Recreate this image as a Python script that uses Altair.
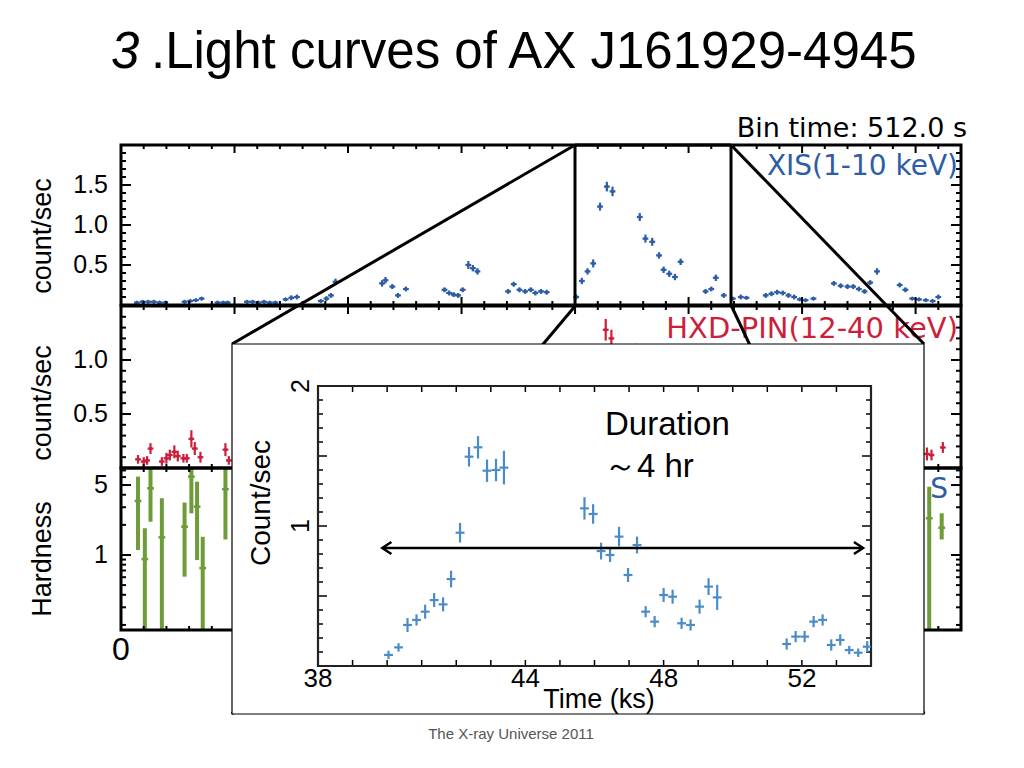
import altair as alt
import pandas as pd

# ---------------- data ----------------
# XIS (1-10 keV) light curve, 512 s bins: time (ks), count/sec, error
xis_t = [1.4, 1.9, 2.4, 2.9, 3.4, 3.9,
         5.6, 6.1, 6.6, 7.1,
         8.5, 9.0, 9.4,
         11.1, 11.6, 12.1, 12.6, 13.1, 13.6,
         14.5, 15.0, 15.5,
         17.6, 18.1, 18.5, 18.9,
         23.0, 23.3, 23.9, 24.4, 25.1,
         28.5, 28.9, 29.3, 29.7, 30.1, 30.6, 31.0, 31.4,
         34.1, 34.6, 35.1, 35.6, 36.1, 36.5, 37.0, 37.5,
         40.1, 40.6, 41.1, 41.6, 42.2, 42.8, 43.3, 45.7, 46.2, 46.8, 47.4,
         47.8, 48.3, 48.8, 49.3, 51.5, 52.0, 52.4, 53.1, 53.9, 54.6, 55.1,
         56.8, 57.3, 57.8, 58.3, 58.8, 59.3, 59.8, 60.3, 61.0,
         62.8, 63.4, 64.0, 64.5, 65.0, 65.5, 66.0, 66.6,
         68.6, 69.1, 69.7, 70.3, 70.9, 71.5, 72.0]
xis_v = [0.03, 0.04, 0.04, 0.04, 0.03, 0.03,
         0.04, 0.05, 0.06, 0.08,
         0.03, 0.03, 0.03,
         0.04, 0.04, 0.03, 0.04, 0.03, 0.03,
         0.07, 0.09, 0.10,
         0.05, 0.08, 0.12, 0.29,
         0.27, 0.31, 0.23, 0.12, 0.20,
         0.19, 0.15, 0.13, 0.12, 0.19, 0.50, 0.46, 0.42,
         0.17, 0.26, 0.19, 0.17, 0.19, 0.15, 0.17, 0.16,
         0.10, 0.30, 0.42, 0.52, 1.23, 1.48, 1.42, 1.10, 0.83, 0.79, 0.62,
         0.44, 0.39, 0.35, 0.54, 0.17, 0.20, 0.34, 0.12, 0.08, 0.10, 0.09,
         0.12, 0.14, 0.16, 0.15, 0.12, 0.10, 0.07, 0.06, 0.08,
         0.27, 0.24, 0.23, 0.23, 0.20, 0.17, 0.28, 0.42,
         0.25, 0.19, 0.08, 0.07, 0.06, 0.05, 0.10]
xis_err = [0.02, 0.02, 0.02, 0.02, 0.02, 0.02,
           0.02, 0.02, 0.02, 0.02,
           0.02, 0.02, 0.02,
           0.02, 0.02, 0.02, 0.02, 0.02, 0.02,
           0.02, 0.03, 0.03,
           0.02, 0.03, 0.03, 0.04,
           0.04, 0.04, 0.03, 0.03, 0.03,
           0.03, 0.03, 0.03, 0.03, 0.03, 0.05, 0.04, 0.04,
           0.03, 0.03, 0.03, 0.03, 0.03, 0.03, 0.03, 0.03,
           0.03, 0.04, 0.04, 0.05, 0.05, 0.06, 0.06, 0.05, 0.05, 0.05, 0.04,
           0.04, 0.04, 0.04, 0.04, 0.03, 0.03, 0.04, 0.03, 0.02, 0.03, 0.02,
           0.03, 0.03, 0.03, 0.03, 0.03, 0.03, 0.02, 0.02, 0.02,
           0.03, 0.03, 0.03, 0.03, 0.03, 0.03, 0.03, 0.04,
           0.03, 0.03, 0.02, 0.02, 0.02, 0.02, 0.03]

# HXD-PIN (12-40 keV)
pin_t = [1.5, 2.0, 2.3, 2.6, 3.6, 4.0, 4.3, 4.7, 5.0, 5.5, 5.8, 6.2, 6.5, 7.0, 9.2, 9.5,
         42.7, 43.2, 45.3, 71.0, 71.4, 72.4]
pin_v = [0.08, 0.06, 0.07, 0.18, 0.06, 0.09, 0.12, 0.15, 0.11, 0.09, 0.09, 0.27, 0.18, 0.10, 0.17, 0.07,
         1.28, 1.20, 1.05, 0.13, 0.12, 0.19]
pin_err = [0.04, 0.04, 0.04, 0.05, 0.04, 0.05, 0.05, 0.06, 0.05, 0.04, 0.04, 0.08, 0.06, 0.05, 0.06, 0.04,
           0.10, 0.08, 0.10, 0.06, 0.05, 0.05]

# Hardness ratio (log scale)
hr_t = [1.5, 2.1, 2.6, 3.6, 5.6, 6.2, 6.7, 7.2, 9.2, 71.2, 72.3]
hr_v = [3.47, 0.91, 4.64, 1.50, 1.92, 6.07, 3.04, 0.74, 4.55, 2.33, 1.87]
hr_lo = [1.12, 0.178, 2.15, 0.178, 0.607, 2.61, 0.89, 0.178, 1.43, 0.178, 1.43]
hr_hi = [6.07, 1.85, 7.36, 3.69, 3.34, 7.36, 5.40, 1.52, 7.36, 4.82, 2.61]

# Inset: XIS flare, 256 s bins
ins_t = [40.04, 40.33, 40.59, 40.85, 41.10, 41.36, 41.62, 41.85, 42.11, 42.37, 42.63, 42.89, 43.15, 43.38,
         45.71, 45.96, 46.19, 46.45, 46.71, 46.97, 47.23, 47.48, 47.74, 48.00, 48.26, 48.52, 48.78, 49.04,
         49.30, 49.55,
         51.56, 51.82, 52.08, 52.34, 52.60, 52.85, 53.11, 53.37, 53.63, 53.89]
ins_v = [0.079, 0.133, 0.293, 0.329, 0.388, 0.471, 0.440, 0.621, 0.952, 1.495, 1.562, 1.395, 1.400, 1.417,
         1.126, 1.086, 0.821, 0.793, 0.924, 0.650, 0.864, 0.388, 0.317, 0.507, 0.495, 0.305, 0.293, 0.424,
         0.567, 0.490,
         0.157, 0.210, 0.210, 0.317, 0.329, 0.150, 0.186, 0.114, 0.095, 0.138]
ins_err = [0.03, 0.03, 0.05, 0.04, 0.05, 0.05, 0.05, 0.06, 0.07, 0.07, 0.08, 0.08, 0.08, 0.12,
           0.08, 0.07, 0.06, 0.05, 0.07, 0.05, 0.06, 0.04, 0.04, 0.05, 0.05, 0.04, 0.04, 0.05, 0.06, 0.09,
           0.04, 0.04, 0.04, 0.04, 0.04, 0.04, 0.04, 0.03, 0.03, 0.04]
arrow_t = [39.86, 53.77]
arrow_v = [0.843, 0.843]

# tick values / labels
main_x_major = [0, 10, 20, 30, 40, 50, 60, 70]
main_x_minor = [2, 4, 6, 8, 12, 14, 16, 18, 22, 24, 26, 28, 32, 34, 36, 38, 42, 44, 46, 48,
                52, 54, 56, 58, 62, 64, 66, 68, 72, 74]
xis_y_major = [0.5, 1.0, 1.5]
xis_y_minor = [0.1, 0.2, 0.3, 0.4, 0.6, 0.7, 0.8, 0.9, 1.1, 1.2, 1.3, 1.4, 1.6, 1.7, 1.8, 1.9]
pin_y_major = [0.5, 1.0]
pin_y_minor = [0.1, 0.2, 0.3, 0.4, 0.6, 0.7, 0.8, 0.9, 1.1, 1.2, 1.3, 1.4]
hr_y_major = [1, 5]
hr_y_minor = [0.2, 0.3, 0.4, 0.5, 0.6, 0.7, 0.8, 0.9, 2, 3, 4, 6, 7]
ins_x_ticks = [39, 40, 41, 42, 43, 44, 45, 46, 47, 48, 49, 50, 51, 52, 53]
ins_x_labels = [38, 44, 48, 52]
ins_y_major = [0.5, 1.0, 1.5]
ins_y_minor = [0.1, 0.2, 0.3, 0.4, 0.6, 0.7, 0.8, 0.9, 1.1, 1.2, 1.3, 1.4, 1.6, 1.7, 1.8, 1.9]

# ---------------- layout ----------------
OFF = 8


def P(v):
    return v - OFF


X_MAIN = dict(domain=[0, 74], range=[P(121), P(961)])
Y_XIS = dict(domain=[0, 2.0], range=[P(305), P(145)], type="linear")
Y_PIN = dict(domain=[0, 1.5], range=[P(468), P(306)], type="linear")
Y_HR = dict(domain=[0.178, 7.4], range=[P(630), P(468)], type="log")
X_INS = dict(domain=[38, 54], range=[P(318), P(871)])
Y_INS = dict(domain=[0, 2], range=[P(666), P(386)], type="linear")

BLUE = "#2d5da6"
RED = "#cc1f3c"
GREEN = "#6e9c38"
LBLUE = "#4b8cc8"
SANS = "Liberation Sans"
WIDE = "DejaVu Sans"


def sx(spec):
    return alt.Scale(domain=spec["domain"], range=spec["range"], nice=False, zero=False, clamp=True)


def sy(spec):
    return alt.Scale(domain=spec["domain"], range=spec["range"], type=spec["type"],
                     nice=False, zero=False, clamp=True)


layers = []


def errbars(t, v, lo, hi, dt, xs, ys, color, w, hw=None, point=False):
    df = pd.DataFrame({"t": t, "v": v, "lo": lo, "hi": hi,
                       "tl": [a - dt for a in t], "tr": [a + dt for a in t]})
    out = [
        alt.Chart(df).mark_rule(color=color, strokeWidth=w).encode(
            x=alt.X("t:Q", scale=sx(xs), axis=None),
            y=alt.Y("lo:Q", scale=sy(ys), axis=None), y2="hi:Q"),
        alt.Chart(df).mark_rule(color=color, strokeWidth=hw or w).encode(
            x=alt.X("tl:Q", scale=sx(xs), axis=None), x2="tr:Q",
            y=alt.Y("v:Q", scale=sy(ys), axis=None)),
    ]
    if point:
        out.append(alt.Chart(df).mark_point(shape="diamond", filled=True, size=22, color=color, opacity=1).encode(
            x=alt.X("t:Q", scale=sx(xs), axis=None),
            y=alt.Y("v:Q", scale=sy(ys), axis=None)))
    return out


def xticks(xs, values, y0, length, width=2):
    df = pd.DataFrame({"t": values})
    return alt.Chart(df).mark_rule(color="black", strokeWidth=width).encode(
        x=alt.X("t:Q", scale=sx(xs), axis=None),
        y=alt.value(P(y0)), y2=alt.value(P(y0) + length))


def yticks(ys, values, x0, length, width=2):
    df = pd.DataFrame({"v": values})
    return alt.Chart(df).mark_rule(color="black", strokeWidth=width).encode(
        y=alt.Y("v:Q", scale=sy(ys), axis=None),
        x=alt.value(P(x0)), x2=alt.value(P(x0) + length))


def frame(xs, ys, width, color="black"):
    df = pd.DataFrame({"x0": [xs["domain"][0]], "x1": [xs["domain"][1]],
                       "y0": [ys["domain"][0]], "y1": [ys["domain"][1]]})
    return alt.Chart(df).mark_rect(fillOpacity=0, stroke=color, strokeWidth=width).encode(
        x=alt.X("x0:Q", scale=sx(xs), axis=None), x2="x1:Q",
        y=alt.Y("y0:Q", scale=sy(ys), axis=None), y2="y1:Q")


def label(txt, x, y, size, color="black", font=SANS, align="left", baseline="alphabetic",
          angle=0, style="normal"):
    return alt.Chart(pd.DataFrame({"s": [txt]})).mark_text(
        align=align, baseline=baseline, fontSize=size, font=font, color=color,
        fontStyle=style, angle=angle).encode(text="s:N", x=alt.value(P(x)), y=alt.value(P(y)))


def ylabels(ys, vals, texts, x, size, angle=0, align="right"):
    df = pd.DataFrame({"v": vals, "s": texts})
    return alt.Chart(df).mark_text(align=align, baseline="middle", fontSize=size, font=SANS,
                                   color="black", angle=angle).encode(
        y=alt.Y("v:Q", scale=sy(ys), axis=None), x=alt.value(P(x)), text="s:N")


def rule_px(x1, y1, x2, y2, w, color="black"):
    return alt.Chart(pd.DataFrame({"k": [0]})).mark_rule(color=color, strokeWidth=w).encode(
        x=alt.value(P(x1)), y=alt.value(P(y1)), x2=alt.value(P(x2)), y2=alt.value(P(y2)))


# ---- main three panels: data ----
layers += errbars(xis_t, xis_v, [a - e for a, e in zip(xis_v, xis_err)],
                  [a + e for a, e in zip(xis_v, xis_err)], 0.256, X_MAIN, Y_XIS, BLUE, 2.2, point=True)
layers += errbars(pin_t, pin_v, [a - e for a, e in zip(pin_v, pin_err)],
                  [a + e for a, e in zip(pin_v, pin_err)], 0.256, X_MAIN, Y_PIN, RED, 2.2, point=True)
layers += errbars(hr_t, hr_v, hr_lo, hr_hi, 0.3, X_MAIN, Y_HR, GREEN, 4, hw=2.5)

# ---- main frames & ticks ----
panel_edges = [(Y_XIS, 145, 305, xis_y_major, xis_y_minor),
               (Y_PIN, 306, 468, pin_y_major, pin_y_minor),
               (Y_HR, 468, 630, hr_y_major, hr_y_minor)]
for ys, top, bot, ymaj, ymin in panel_edges:
    layers.append(xticks(X_MAIN, main_x_major, top, 8))
    layers.append(xticks(X_MAIN, main_x_minor, top, 4))
    layers.append(xticks(X_MAIN, main_x_major, bot, -8))
    layers.append(xticks(X_MAIN, main_x_minor, bot, -4))
    layers.append(yticks(ys, ymaj, 121, 10))
    layers.append(yticks(ys, ymin, 121, 5))
    layers.append(yticks(ys, ymaj, 961, -10))
    layers.append(yticks(ys, ymin, 961, -5))
    layers.append(frame(X_MAIN, ys, 3))

# ---- main labels ----
layers.append(label("Bin time: 512.0 s", 967, 137, 27, font=WIDE, align="right"))
layers.append(label("XIS(1-10 keV)", 958, 175, 28, color=BLUE, font=WIDE, align="right"))
layers.append(label("HXD-PIN(12-40 keV)", 958, 338, 29, color=RED, font=WIDE, align="right"))
layers.append(label("S", 948, 498, 28, color=BLUE, font=WIDE, align="right"))
layers.append(ylabels(Y_XIS, xis_y_major, ["0.5", "1.0", "1.5"], 108, 25))
layers.append(ylabels(Y_PIN, pin_y_major, ["0.5", "1.0"], 108, 25))
layers.append(ylabels(Y_HR, hr_y_major, ["1", "5"], 108, 25))
layers.append(alt.Chart(pd.DataFrame({"t": [0], "s": ["0"]})).mark_text(
    align="center", baseline="middle", fontSize=32, font=SANS, color="black").encode(
    x=alt.X("t:Q", scale=sx(X_MAIN), axis=None), y=alt.value(P(650)), text="s:N"))
layers.append(label("count/sec", 43, 236, 27, align="center", baseline="middle", angle=270))
layers.append(label("count/sec", 43, 403, 27, align="center", baseline="middle", angle=270))
layers.append(label("Hardness", 43, 559, 27, align="center", baseline="middle", angle=270))

# ---- zoom indicator lines ----
for x1, y1, x2, y2 in [(575, 145, 731, 145), (575, 145, 575, 305), (731, 145, 731, 305),
                       (575, 145, 232, 344), (731, 145, 924, 344),
                       (576, 305, 232, 714), (731, 305, 924, 714)]:
    layers.append(rule_px(x1, y1, x2, y2, 3))

# ---- inset ----
layers.append(alt.Chart(pd.DataFrame({"k": [0]})).mark_rect(
    fill="white", stroke="black", strokeWidth=1.2).encode(
    x=alt.value(P(232)), x2=alt.value(P(924)), y=alt.value(P(344)), y2=alt.value(P(714))))
layers.append(xticks(X_INS, ins_x_ticks, 386, 6, 1.5))
layers.append(xticks(X_INS, ins_x_ticks, 666, -6, 1.5))
layers.append(yticks(Y_INS, ins_y_major, 318, 9, 1.5))
layers.append(yticks(Y_INS, ins_y_minor, 318, 5, 1.5))
layers.append(yticks(Y_INS, ins_y_major, 871, -9, 1.5))
layers.append(yticks(Y_INS, ins_y_minor, 871, -5, 1.5))
layers.append(frame(X_INS, Y_INS, 2.2, "#222222"))
layers += errbars(ins_t, ins_v, [a - e for a, e in zip(ins_v, ins_err)],
                  [a + e for a, e in zip(ins_v, ins_err)], 0.128, X_INS, Y_INS, LBLUE, 2.2)

# arrow
arr = pd.DataFrame({"t": arrow_t, "v": arrow_v})
layers.append(alt.Chart(arr).mark_line(color="black", strokeWidth=2.5).encode(
    x=alt.X("t:Q", scale=sx(X_INS), axis=None), y=alt.Y("v:Q", scale=sy(Y_INS), axis=None)))
layers.append(alt.Chart(arr.iloc[[0]]).mark_point(
    shape="M1.3,-0.85L0,0L1.3,0.85", filled=False, size=196, color="black", strokeWidth=2.5, opacity=1).encode(
    x=alt.X("t:Q", scale=sx(X_INS), axis=None), y=alt.Y("v:Q", scale=sy(Y_INS), axis=None)))
layers.append(alt.Chart(arr.iloc[[1]]).mark_point(
    shape="M-1.3,-0.85L0,0L-1.3,0.85", filled=False, size=196, color="black", strokeWidth=2.5, opacity=1).encode(
    x=alt.X("t:Q", scale=sx(X_INS), axis=None), y=alt.Y("v:Q", scale=sy(Y_INS), axis=None)))

# inset texts
layers.append(alt.Chart(pd.DataFrame({"t": ins_x_labels, "s": [str(v) for v in ins_x_labels]})).mark_text(
    align="center", baseline="middle", fontSize=26, font=SANS, color="black").encode(
    x=alt.X("t:Q", scale=sx(X_INS), axis=None), y=alt.value(P(679)), text="s:N"))
layers.append(ylabels(Y_INS, [1, 2], ["1", "2"], 301, 25, angle=270, align="center"))
layers.append(label("Count/sec", 262, 503, 28, align="center", baseline="middle", angle=270))
layers.append(label("Time (ks)", 599, 708, 27, align="center"))
layers.append(label("Duration", 605, 435, 33))
layers.append(label("～4 hr", 604, 477, 33))

# ---- slide title & footer ----
layers.append(label("3", 111, 68, 51, style="italic"))
layers.append(label(".Light curves of AX J161929-4945", 151, 68, 51))
layers.append(label("The X-ray Universe 2011", 511, 739, 15, color="#555555", align="center"))

chart = alt.layer(*layers).resolve_scale(x="independent", y="independent").properties(
    width=1008, height=752, autosize=alt.AutoSizeParams(type="none"), padding=0
).configure(background="white", view=alt.ViewConfig(stroke=None))

chart.save("out.html", embed_options={"renderer": "svg", "actions": False})
